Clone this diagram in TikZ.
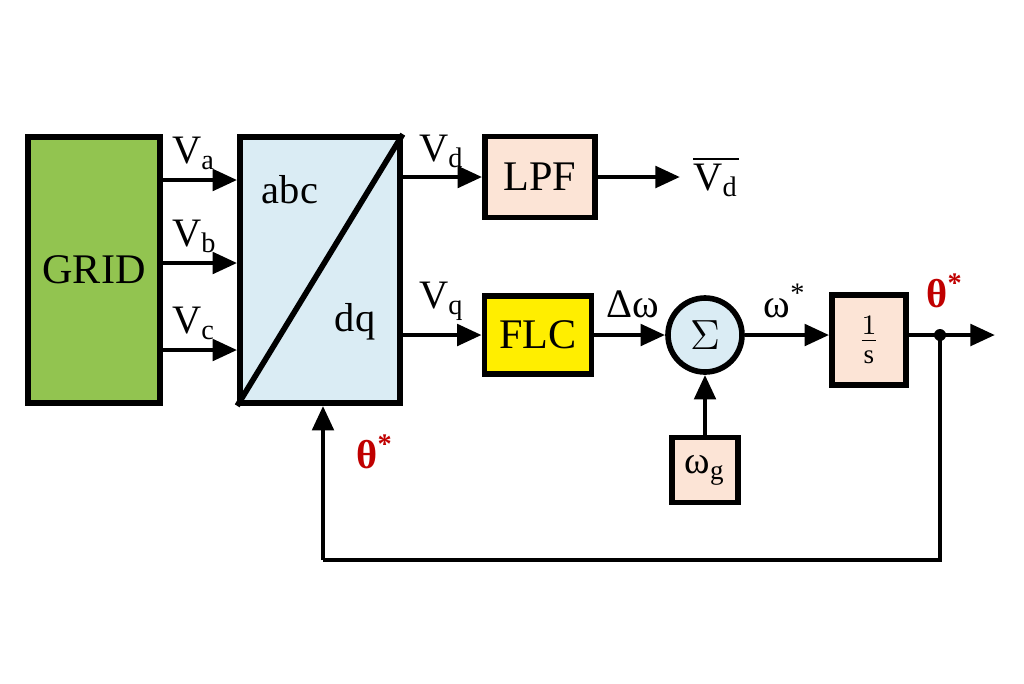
\documentclass[tikz,border=0pt]{standalone}
\usepackage{fontspec}
\setmainfont{Liberation Serif}
\usetikzlibrary{arrows.meta,positioning}
\definecolor{gridgreen}{RGB}{146,196,80}
\definecolor{boxblue}{RGB}{218,236,244}
\definecolor{boxpeach}{RGB}{252,228,214}
\definecolor{flcyellow}{RGB}{255,238,0}
\definecolor{thetared}{RGB}{192,0,0}
\begin{document}
\begin{tikzpicture}%
	[x=0.1mm, y=-0.1mm,
	font=\fontsize{11}{13}\selectfont,
	blk/.style={draw, line width=1.6pt, inner sep=0pt},
	sig/.style={line width=1.4pt, -{Triangle[length=7pt,width=6pt]}},
	wire/.style={line width=1.4pt},
	lbl/.style={inner sep=1pt}]
\useasboundingbox (0,0) rectangle (1024,683);
%
%% blocks
\node[blk, fill=gridgreen, minimum width=13.2mm, minimum height=26.6mm, font=\fontsize{12}{14}\selectfont] (grid) at (94,270) {GRID};
\node[blk, fill=boxblue, minimum width=16mm, minimum height=26.6mm] (park) at (320,270) {};
\draw[line width=1.6pt] (park.south west) -- (park.north east);
\node[font=\fontsize{11.5}{13}\selectfont] (abc) at (290,190) {abc};
\node[font=\fontsize{11.5}{13}\selectfont] (dq) at (355,322) {dq};
\node[blk, fill=boxpeach, minimum width=11mm, minimum height=8.1mm, font=\fontsize{12}{14}\selectfont] (lpf) at (540,177) {LPF};
\node[blk, fill=flcyellow, minimum width=10.7mm, minimum height=7.8mm, font=\fontsize{12}{14}\selectfont] (flc) at (538,335) {FLC};
\node[blk, circle, fill=boxblue, minimum size=7.4mm, font=\fontsize{12}{14}\selectfont] (sum) at (705,335) {$\Sigma$};
\node[blk, fill=boxpeach, minimum width=6.6mm, minimum height=6.5mm, font=\fontsize{11}{13}\selectfont] (wg) at (705,470) {ω\textsubscript{g}};
\node[blk, fill=boxpeach, minimum width=7.4mm, minimum height=9mm] (integ) at (869,340) {$\frac{1}{\mathrm{s}}$};
%
%% coordinates
\coordinate (vdout) at (680,177);
\coordinate (out) at (995,335);
\coordinate (tap) at (940,335);
\coordinate (fbr) at (940,560);
\coordinate (fbl) at (323,560);
%
%% inputs
\foreach \y/\s in {180/a, 263/b, 350/c}{
  \draw[sig] (grid.east |- 0,\y) -- (park.west |- 0,\y);
  \node[lbl, anchor=south west] at (168,\y-6) {\fontsize{11.5}{13}\selectfont V\textsubscript{\s}};
}
%
%% connectors
\draw[sig] (park.east |- lpf) -- (lpf);
\node[lbl, anchor=south west] at (415,172) {\fontsize{11.5}{13}\selectfont V\textsubscript{d}};
\draw[sig] (lpf) -- (vdout);
\node[lbl] at (716,177) {\fontsize{11.5}{13}\selectfont $\overline{\mathrm{V}_{\mathrm{d}}}$};
\draw[sig] (park.east |- flc) -- (flc);
\node[lbl, anchor=south west] at (415,325) {\fontsize{11.5}{13}\selectfont V\textsubscript{q}};
\draw[sig] (flc) -- (sum);
\node[lbl, anchor=south] at (633,322) {\fontsize{11.5}{13}\selectfont Δω};
\draw[sig] (wg) -- (sum);
\draw[sig] (sum) -- (integ.west |- sum);
\node[lbl, anchor=south] at (785,322) {\fontsize{11.5}{13}\selectfont ω\textsuperscript{*}};
\draw[sig] (integ.east |- sum) -- (out);
\node[lbl, text=thetared, anchor=south] at (945,312) {\fontsize{11.5}{13}\selectfont\bfseries θ\textsuperscript{*}};
\fill (tap) circle (6);
\draw[wire] (tap) -- (fbr) -- (fbl);
\draw[sig] (fbl) -- (park.south -| fbl);
\node[lbl, text=thetared] at (375,452) {\fontsize{11.5}{13}\selectfont\bfseries θ\textsuperscript{*}};
\end{tikzpicture}
\end{document}
